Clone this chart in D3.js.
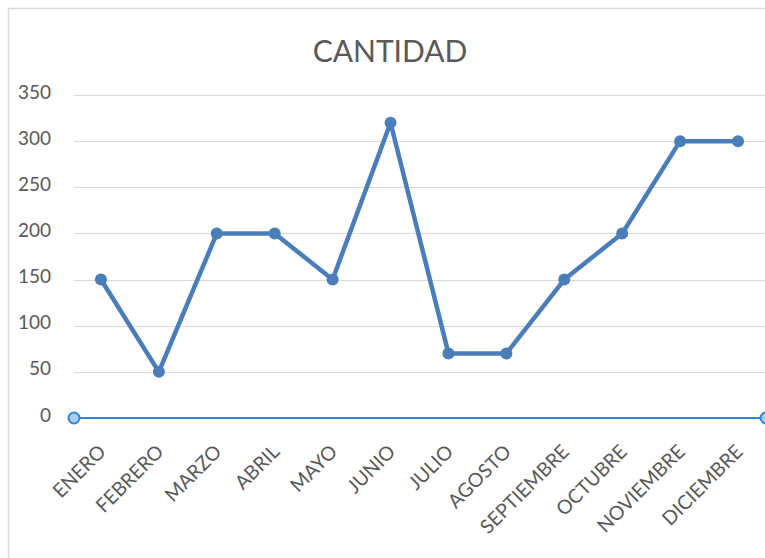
<!DOCTYPE html>
<html>
<head>
<meta charset="utf-8">
<script src="https://cdn.jsdelivr.net/npm/d3@7"></script>
<style>
  body { margin: 0; background: #fff; }
  svg text { font-family: Lato, "Open Sans", sans-serif; fill: #595959; }
</style>
</head>
<body>
<div id="chart"></div>
<script>
var months = ["ENERO", "FEBRERO", "MARZO", "ABRIL", "MAYO", "JUNIO", "JULIO",
  "AGOSTO", "SEPTIEMBRE", "OCTUBRE", "NOVIEMBRE", "DICIEMBRE"];
var cantidad = [150, 50, 200, 200, 150, 320, 70, 70, 150, 200, 300, 300];
var yTicks = [0, 50, 100, 150, 200, 250, 300, 350];

var svgWidth = 765;
var svgHeight = 558;

var svg = d3.select("#chart")
  .append("svg")
  .attr("width", svgWidth)
  .attr("height", svgHeight);

// chart frame
svg.append("path")
  .attr("d", "M8.5,560 V8.5 H770")
  .attr("fill", "none")
  .attr("stroke", "#d9d9d9")
  .attr("stroke-width", 1.5);

var x = d3.scaleBand()
  .domain(months)
  .range([72, 767]);

var y = d3.scaleLinear()
  .domain([0, 350])
  .range([418, 95]);

// gridlines
svg.append("g")
  .selectAll("line")
  .data(yTicks.filter(d => d > 0))
  .enter()
  .append("line")
  .attr("x1", 74)
  .attr("x2", 767)
  .attr("y1", d => Math.round(y(d)) + 0.5)
  .attr("y2", d => Math.round(y(d)) + 0.5)
  .attr("stroke", "#d9d9d9")
  .attr("stroke-width", 1);

// y labels
var leftAxis = d3.axisLeft(y).tickValues(yTicks).tickSize(0).tickPadding(0);
var yAxis = svg.append("g")
  .attr("transform", "translate(51,-3)")
  .call(leftAxis);
yAxis.select(".domain").remove();
yAxis.selectAll("text")
  .style("font-size", "19px")
  .attr("fill", "#595959");

// zero axis (selected look)
svg.append("line")
  .attr("x1", 74).attr("x2", 766)
  .attr("y1", y(0)).attr("y2", y(0))
  .attr("stroke", "#2e86de")
  .attr("stroke-width", 2);
svg.append("g")
  .selectAll("circle")
  .data([74, 766])
  .enter()
  .append("circle")
  .attr("cx", d => d)
  .attr("cy", y(0))
  .attr("r", 5.5)
  .attr("fill", "#a9cdf3")
  .attr("stroke", "#2e86de")
  .attr("stroke-width", 2);

// x labels
var bottomAxis = d3.axisBottom(x).tickSize(0).tickPadding(0);
var xAxis = svg.append("g")
  .attr("transform", "translate(0,430)")
  .call(bottomAxis);
xAxis.select(".domain").remove();
xAxis.selectAll("text")
  .style("font-size", "19.5px")
  .attr("fill", "#595959")
  .attr("text-anchor", "end")
  .attr("y", 0)
  .attr("dy", 0)
  .attr("transform", "translate(6,23) rotate(-45)");

// line
var line = d3.line()
  .x((d, i) => x(months[i]) + x.bandwidth() / 2)
  .y(d => y(d));

svg.append("path")
  .datum(cantidad)
  .attr("d", line)
  .attr("fill", "none")
  .attr("stroke", "#4a7ebb")
  .attr("stroke-width", 4.5)
  .attr("stroke-linejoin", "round");

svg.append("g")
  .selectAll("circle")
  .data(cantidad)
  .enter()
  .append("circle")
  .attr("cx", (d, i) => x(months[i]) + x.bandwidth() / 2)
  .attr("cy", d => y(d))
  .attr("r", 6)
  .attr("fill", "#4a7ebb");

// title
svg.append("text")
  .attr("x", 390)
  .attr("y", 62)
  .attr("text-anchor", "middle")
  .style("font-size", "30px")
  .text("CANTIDAD");
</script>
</body>
</html>
